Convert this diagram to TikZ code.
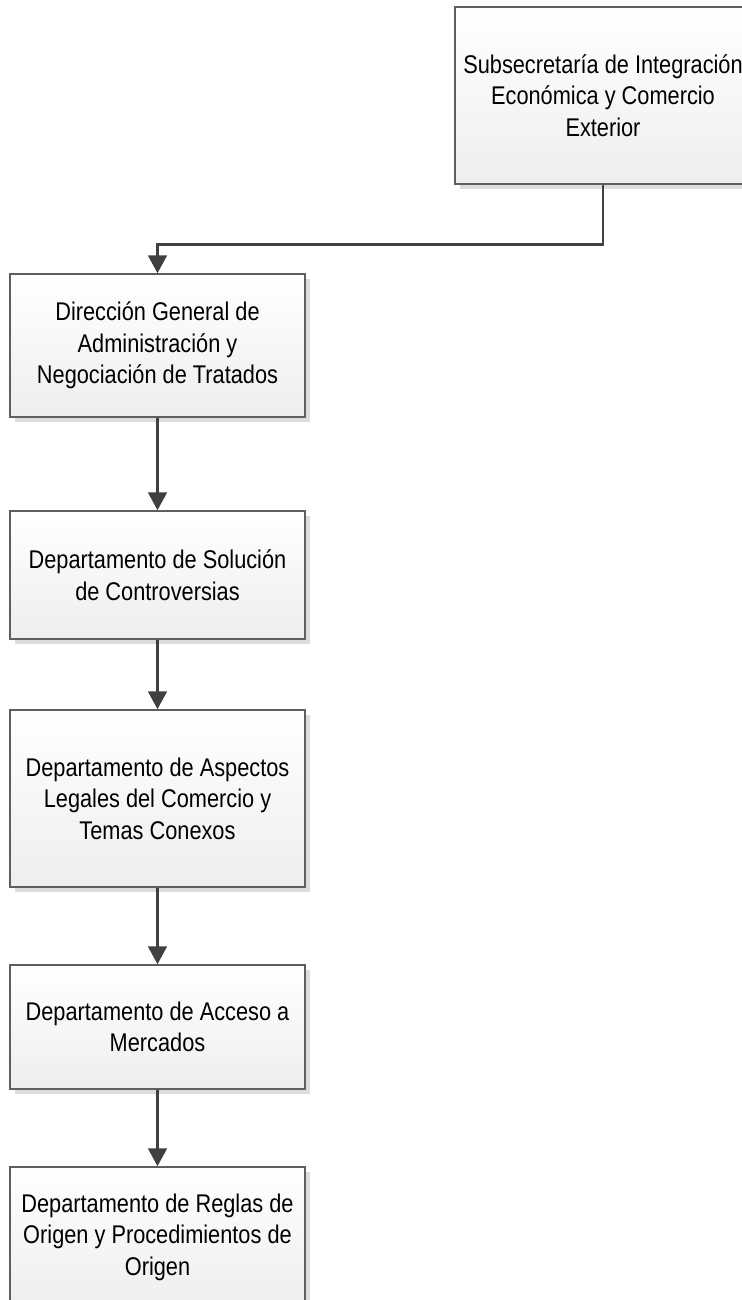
\documentclass[tikz,border=0pt]{standalone}
\usepackage{fontspec}
\setmainfont{Liberation Sans}[FakeStretch=0.85]
\usetikzlibrary{arrows.meta,shadows}
\definecolor{edgegray}{HTML}{5E5E5E}
\definecolor{linkgray}{HTML}{404040}
\definecolor{shadegray}{HTML}{EEEEEE}
\definecolor{shadowgray}{HTML}{DCDCDC}
\begin{document}
\begin{tikzpicture}[x=0.75pt,y=-0.75pt,
  unit/.style={draw=edgegray, line width=1.1pt, top color=white, bottom color=shadegray,
    align=center, inner sep=0pt, minimum width=221.25pt,
    font=\fontsize{19.2}{23.6}\selectfont,
    drop shadow={shadow xshift=3.5pt, shadow yshift=-3.5pt, fill=shadowgray, opacity=1}},
  link/.style={draw=linkgray, line width=2.2pt, -{Triangle[width=14pt,length=13.5pt]}}]
  \useasboundingbox (0,0) rectangle (742,1300);
  \clip (0,0) rectangle (742,1300);

  % organisational units
  \node[unit, minimum width=222pt, minimum height=132.75pt] (sub) at (603,95.5)
    {Subsecretaría de Integración\\Económica y Comercio\\Exterior};
  \node[unit, minimum height=107.25pt] (dg) at (157.5,345.5)
    {Dirección General de\\Administración y\\Negociación de Tratados};
  \node[unit, minimum height=96pt] (sc) at (157.5,575)
    {Departamento de Solución\\de Controversias};
  \node[unit, minimum height=132.75pt] (al) at (157.5,798.5)
    {Departamento de Aspectos\\Legales del Comercio y\\Temas Conexos};
  \node[unit, minimum height=93pt] (am) at (157.5,1027)
    {Departamento de Acceso a\\Mercados};
  \node[unit, minimum height=105pt] (ro) at (157.5,1237)
    {Departamento de Reglas de\\Origen y Procedimientos de\\Origen};

  % reporting lines
  \draw[link] (sub.south) -- ++(0,60) -| (dg.north);
  \draw[link] (dg.south) -- (sc.north);
  \draw[link] (sc.south) -- (al.north);
  \draw[link] (al.south) -- (am.north);
  \draw[link] (am.south) -- (ro.north);
\end{tikzpicture}
\end{document}
